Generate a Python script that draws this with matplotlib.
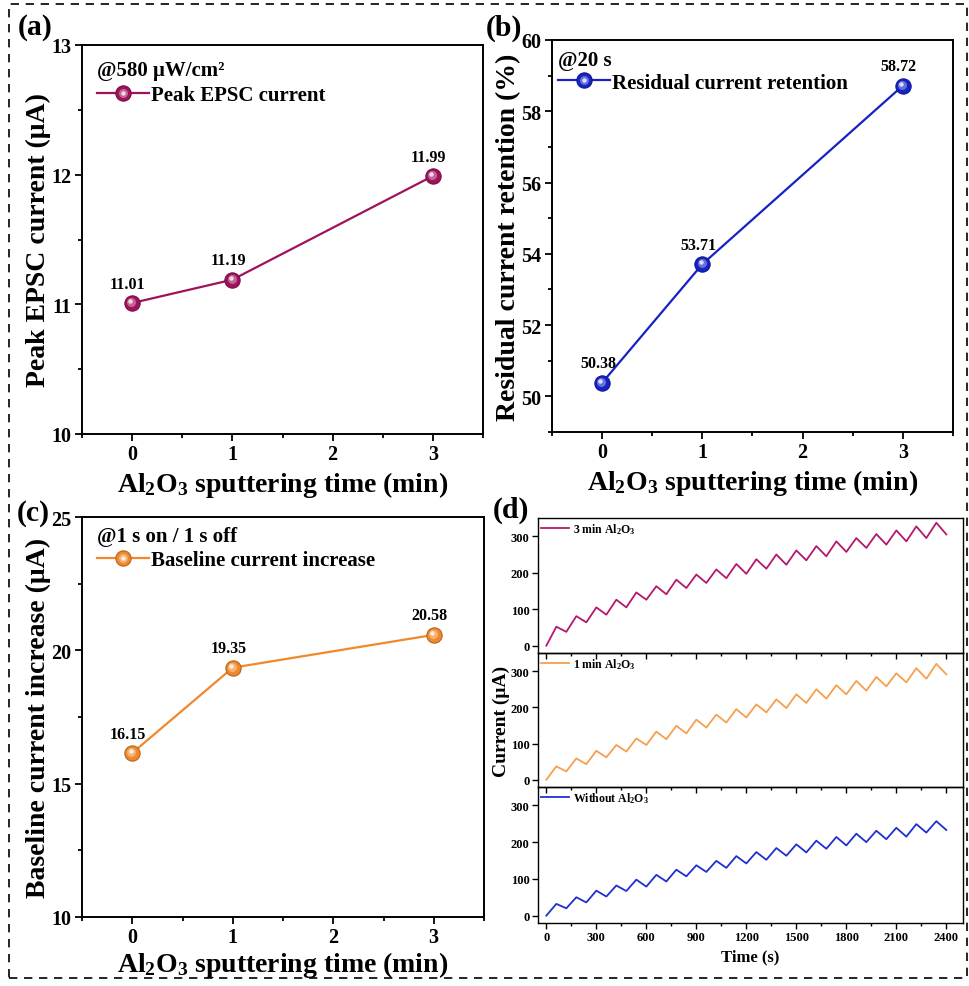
import numpy as np
import matplotlib
matplotlib.use("Agg")
import matplotlib.pyplot as plt
from matplotlib.patches import Rectangle
from matplotlib.legend_handler import HandlerTuple
from matplotlib.ticker import MultipleLocator
from matplotlib.transforms import offset_copy

plt.rcParams['font.family'] = ['Liberation Serif', 'DejaVu Serif']
plt.rcParams['font.weight'] = 'bold'
plt.rcParams['axes.labelweight'] = 'bold'
plt.rcParams['mathtext.default'] = 'regular'

# ---- data ----
sputter_time = [0, 1, 3]
peak_epsc = [11.01, 11.19, 11.99]
retention = [50.38, 53.71, 58.72]
baseline_inc = [16.15, 19.35, 20.58]

# panel d: current at start of each pulse (troughs) and at end of each pulse (peaks)
t_trough = list(range(0, 2401, 120))
t_peak = list(range(60, 2400, 120))

trough_3min = [0, 38, 64, 85, 105, 126, 141, 158, 172, 185, 197,
               211, 222, 234, 245, 257, 268, 277, 286, 295, 305]
peak_3min = [52, 81, 105, 126, 146, 163, 181, 195, 209, 224,
             237, 250, 261, 273, 286, 295, 306, 316, 327, 337]

trough_1min = [0, 23, 43, 62, 78, 96, 112, 128, 144, 158, 172,
               186, 198, 212, 224, 236, 246, 258, 269, 279, 291]
peak_1min = [37, 59, 80, 96, 114, 133, 149, 166, 180, 195,
             208, 222, 236, 250, 261, 273, 284, 294, 308, 320]

trough_wo = [0, 20, 36, 52, 67, 79, 93, 107, 119, 130, 142,
             152, 163, 172, 182, 191, 200, 208, 215, 226, 233]
peak_wo = [32, 50, 68, 82, 98, 111, 125, 137, 149, 162,
           173, 184, 194, 204, 214, 223, 231, 239, 249, 257]

c_a = '#A0125C'
c_b = '#1522C4'
c_c = '#F0882C'
c_d3 = '#B5186C'
c_d1 = '#F5A04E'
c_d0 = '#1F30D0'

W, H = 970, 987
fig = plt.figure(figsize=(W / 100, H / 100), dpi=100)


def box(l, t, r, b):
    return [l / W, 1 - b / H, (r - l) / W, (b - t) / H]


def shade(c, f):
    rgb = np.array(matplotlib.colors.to_rgb(c))
    if f >= 0:
        return tuple(rgb + (1 - rgb) * f)
    return tuple(rgb * (1 + f))


def ball(ax, x, y, color):
    # fake 3D ball marker: darker rim, body, highlight up-left
    tr1 = offset_copy(ax.transData, fig=fig, x=-0.6, y=0.6, units='points')
    tr2 = offset_copy(ax.transData, fig=fig, x=-1.2, y=1.2, units='points')
    h0, = ax.plot(x, y, '-', color=color, lw=1.6, marker='o', ms=11,
                  mec=shade(color, -0.25), mew=0.8, mfc=color, zorder=3)
    h1, = ax.plot(x, y, ls='none', marker='o', ms=6.5, mec='none',
                  mfc=shade(color, 0.35), zorder=4, transform=tr1)
    h2, = ax.plot(x, y, ls='none', marker='o', ms=3.2, mec='none',
                  mfc=shade(color, 0.85), zorder=5, transform=tr2)
    return (h0, h1, h2)


def style_main(ax):
    for s in ax.spines.values():
        s.set_linewidth(1.4)
    ax.tick_params(which='both', direction='out', width=1.3, labelsize=14.5)
    ax.tick_params(which='major', length=5, pad=2.5)
    ax.tick_params(which='minor', length=3)
    ax.set_xlim(-0.5, 3.5)
    ax.set_xticks([0, 1, 2, 3])
    ax.xaxis.set_minor_locator(MultipleLocator(0.5))
    ax.set_xlabel(r'Al$_2$O$_3$ sputtering time (min)', fontsize=20, labelpad=3)


def annotate(ax, x, y, fmt='{:.2f}'):
    for xi, yi in zip(x, y):
        ax.annotate(fmt.format(yi), (xi, yi), xytext=(-3, 14),
                    textcoords='offset points', ha='center', va='center',
                    fontsize=11.5, fontweight='bold')


def add_legend(ax, h, label, xy):
    ax.legend([h], [label], handler_map={tuple: HandlerTuple(ndivide=1)},
              loc='center left', bbox_to_anchor=xy, frameon=False,
              fontsize=15, handlelength=2.5, handletextpad=0.1, borderpad=0,
              borderaxespad=0)


# (a)
ax = fig.add_axes(box(82, 46, 483, 435))
h = ball(ax, sputter_time, peak_epsc, c_a)
style_main(ax)
ax.set_ylim(10, 13)
ax.set_yticks([10, 11, 12, 13])
ax.yaxis.set_minor_locator(MultipleLocator(0.5))
ax.set_ylabel('Peak EPSC current (μA)', fontsize=20, labelpad=0)
annotate(ax, sputter_time, peak_epsc)
ax.text(0.037, 0.936, '@580 μW/cm²', transform=ax.transAxes, fontsize=15,
        va='center', ha='left')
add_legend(ax, h, 'Peak EPSC current', (0.037, 0.871))

# (b)
ax = fig.add_axes(box(552, 41, 953, 433))
h = ball(ax, sputter_time, retention, c_b)
style_main(ax)
ax.set_ylim(49, 60)
ax.set_yticks([50, 52, 54, 56, 58, 60])
ax.yaxis.set_minor_locator(MultipleLocator(1))
ax.set_ylabel('Residual current retention (%)', fontsize=20, labelpad=0)
annotate(ax, sputter_time, retention)
ax.text(0.015, 0.95, '@20 s', transform=ax.transAxes, fontsize=15,
        va='center', ha='left')
add_legend(ax, h, 'Residual current retention', (0.015, 0.891))

# (c)
ax = fig.add_axes(box(82, 518, 484, 918))
h = ball(ax, sputter_time, baseline_inc, c_c)
style_main(ax)
ax.xaxis.labelpad = 1
ax.set_ylim(10, 25)
ax.set_yticks([10, 15, 20, 25])
ax.yaxis.set_minor_locator(MultipleLocator(2.5))
ax.set_ylabel('Baseline current increase (μA)', fontsize=20, labelpad=0)
annotate(ax, sputter_time, baseline_inc)
ax.text(0.037, 0.952, '@1 s on / 1 s off', transform=ax.transAxes, fontsize=15,
        va='center', ha='left')
add_legend(ax, h, 'Baseline current increase', (0.037, 0.893))

# (d) three stacked traces
series = [
    (trough_3min, peak_3min, c_d3, r'3 min Al$_2$O$_3$', (519, 654)),
    (trough_1min, peak_1min, c_d1, r'1 min Al$_2$O$_3$', (654, 788)),
    (trough_wo, peak_wo, c_d0, r'Without Al$_2$O$_3$', (788, 924)),
]
axes_d = []
for tr, pk, col, lab, (top, bot) in series:
    ax = fig.add_axes(box(538, top, 963, bot))
    ax.patch.set_alpha(0)
    t = np.empty(len(t_trough) + len(t_peak))
    v = np.empty_like(t)
    t[0::2] = t_trough
    t[1::2] = t_peak
    v[0::2] = tr
    v[1::2] = pk
    ax.plot(t, v, color=col, lw=1.3, label=lab)
    ax.set_xlim(-50, 2500)
    ax.set_ylim(-20, 350)
    ax.set_yticks([0, 100, 200, 300])
    ax.set_xticks(range(0, 2401, 300))
    ax.xaxis.set_minor_locator(MultipleLocator(150))
    ax.tick_params(which='both', direction='out', width=1, labelsize=9, pad=2)
    ax.tick_params(which='major', length=4)
    ax.tick_params(which='minor', length=2.5)
    for s in ax.spines.values():
        s.set_linewidth(1.0)
    ax.legend(loc='upper left', frameon=False, fontsize=8.5, handlelength=2.4,
              handletextpad=0.3, borderpad=0.15, borderaxespad=0.1)
    axes_d.append(ax)
for ax in axes_d[:-1]:
    ax.tick_params(axis='x', labelbottom=False)
axes_d[-1].set_xlabel('Time (s)', fontsize=12, labelpad=4)
axes_d[1].set_ylabel('Current (μA)', fontsize=14, labelpad=1)

# panel letters
fig.text(18 / W, 1 - 14 / H, '(a)', fontsize=21.5, va='top', ha='left')
fig.text(486 / W, 1 - 15 / H, '(b)', fontsize=21.5, va='top', ha='left')
fig.text(17 / W, 1 - 500 / H, '(c)', fontsize=21.5, va='top', ha='left')
fig.text(493 / W, 1 - 497 / H, '(d)', fontsize=21.5, va='top', ha='left')

# dashed frame around the whole figure
fig.patches.append(Rectangle((9 / W, 8 / H), 958 / W, 974 / H, transform=fig.transFigure,
                             fill=False, ls=(0, (5, 4)), lw=1.2, ec='black'))

fig.savefig('out.png', dpi=100)
